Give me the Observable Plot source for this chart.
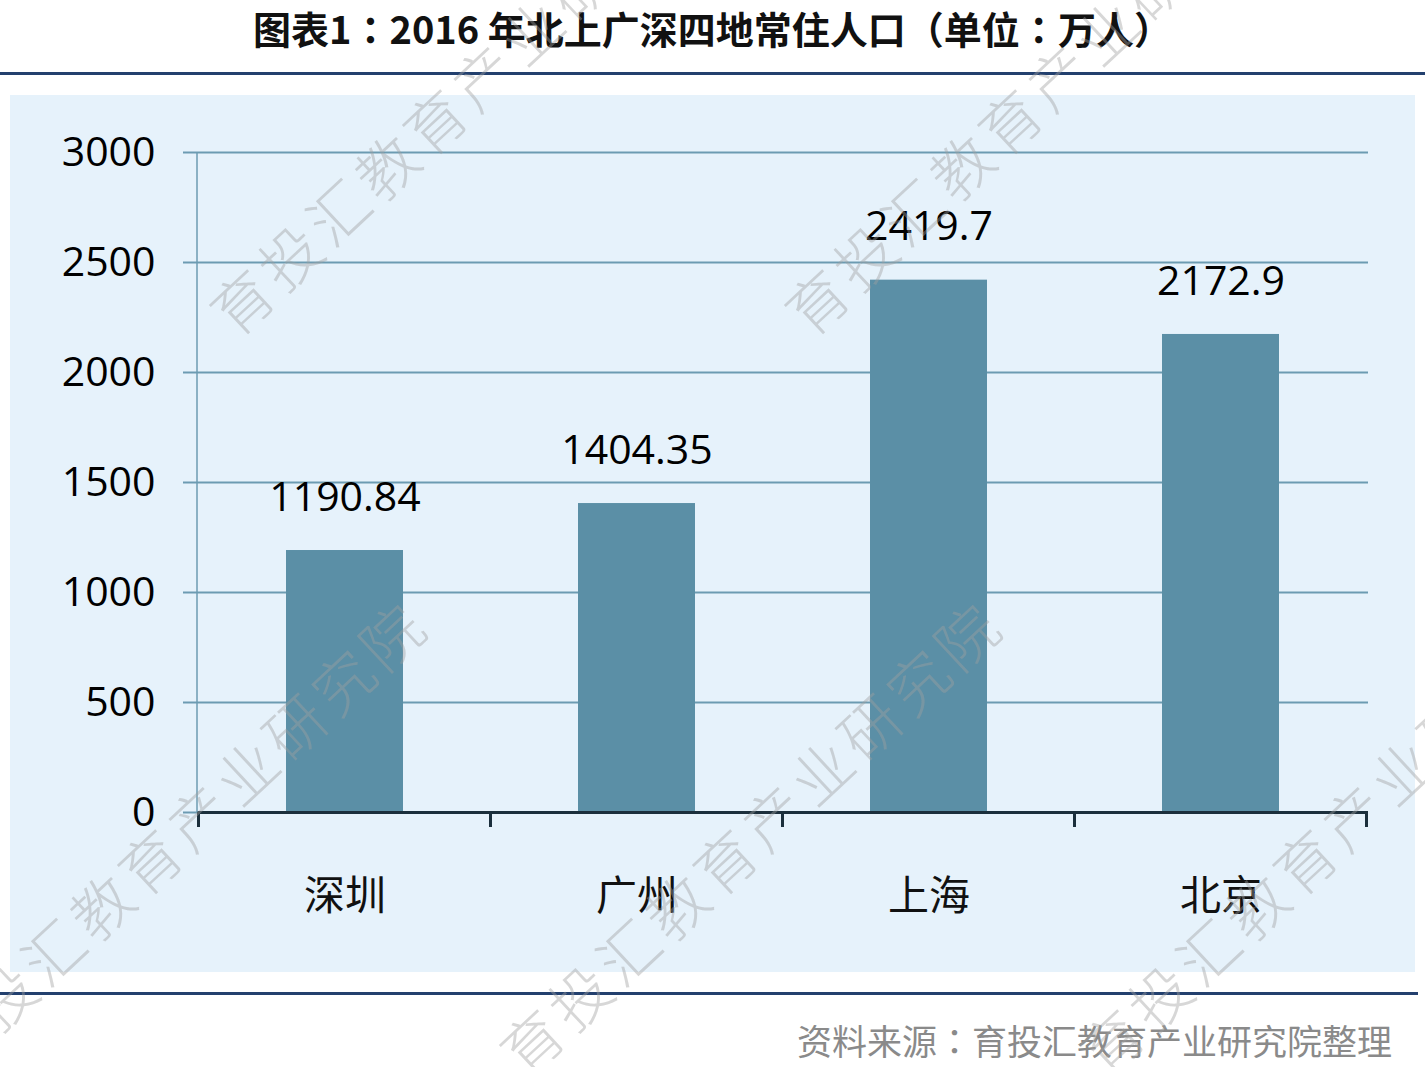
<!DOCTYPE html>
<html><head><meta charset="utf-8">
<script src="https://cdn.jsdelivr.net/npm/d3@7"></script>
<script src="https://cdn.jsdelivr.net/npm/@observablehq/plot@0.6"></script>
<style>
body{margin:0;background:#fff;width:1425px;height:1067px;position:relative;overflow:hidden;font-family:"Noto Sans CJK SC","Open Sans",sans-serif;}
#title{position:absolute;left:0;width:1425px;top:0;height:56px;text-align:center;font-size:38px;font-weight:700;line-height:56px;color:#111;}
.p{font-family:"Noto Sans CJK TC",sans-serif;}
.hr{position:absolute;left:0;height:3px;background:#23406e;}
#panel{position:absolute;left:10px;top:95px;width:1405px;height:877px;background:#e6f2fb;}
#caption{position:absolute;right:33px;top:1015px;font-size:35px;line-height:50px;color:#8a8a8a;}
.wm{position:absolute;font-size:60px;letter-spacing:6px;color:rgba(160,160,160,0.42);white-space:nowrap;pointer-events:none;transform-origin:30px 50%;transform:rotate(-43deg);line-height:70px;font-weight:300;}
</style>
</head><body>
<div id="title">图表1<span class="p">：</span>2016 年北上广深四地常住人口<span class="p">（</span>单位<span class="p">：</span>万人<span class="p">）</span></div>
<div class="hr" style="top:72px;width:1425px;"></div>
<div id="panel"></div>
<div class="hr" style="top:992px;width:1418px;"></div>
<div id="caption">资料来源<span class="p">：</span>育投汇教育产业研究院整理</div>
<script>
const cities = ["深圳", "广州", "上海", "北京"];
const population = [1190.84, 1404.35, 2419.7, 2172.9];
const yTicks = [0, 500, 1000, 1500, 2000, 2500, 3000];
const watermarkText = "育投汇教育产业研究院";

const data = cities.map((c, i) => ({city: c, value: population[i]}));
const barColor = "#5b8fa6";
const gridColor = "#6c9bb2";
const axisDark = "#1b2f3c";

function frameMarks(index, scales, values, dimensions) {
  const x = scales.x;
  const svgNS = "http://www.w3.org/2000/svg";
  const g = document.createElementNS(svgNS, "g");
  const bw = typeof x.bandwidth === "function" ? x.bandwidth() : x.bandwidth;
  const step = x(cities[1]) - x(cities[0]);
  const y0 = dimensions.height - dimensions.marginBottom;
  const yTop = dimensions.marginTop;
  const xl = dimensions.marginLeft;
  const v = document.createElementNS(svgNS, "line");
  v.setAttribute("x1", xl); v.setAttribute("x2", xl);
  v.setAttribute("y1", yTop); v.setAttribute("y2", y0);
  v.setAttribute("stroke", gridColor); v.setAttribute("stroke-width", 1.5);
  g.appendChild(v);
  const bounds = cities.map(c => x(c) - (step - bw) / 2);
  bounds.push(x(cities[cities.length - 1]) + bw + (step - bw) / 2);
  for (const bx of bounds) {
    const t = document.createElementNS(svgNS, "line");
    t.setAttribute("x1", bx); t.setAttribute("x2", bx);
    t.setAttribute("y1", y0); t.setAttribute("y2", y0 + 15);
    t.setAttribute("stroke", axisDark); t.setAttribute("stroke-width", 3);
    g.appendChild(t);
  }
  return g;
}

const chart = Plot.plot({
  width: 1405,
  height: 877,
  marginLeft: 187,
  marginRight: 47,
  marginTop: 57,
  marginBottom: 160,
  style: {background: "transparent", fontFamily: "'Open Sans','Noto Sans CJK SC',sans-serif", overflow: "visible"},
  x: {domain: cities, paddingInner: 0.6, paddingOuter: 0.3, label: null},
  y: {domain: [0, 3000], label: null},
  marks: [
    Plot.gridY(yTicks, {stroke: gridColor, strokeOpacity: 1, strokeWidth: 2}),
    Plot.axisY(yTicks, {tickSize: 14, tickPadding: 28, fontSize: 41, fill: "#000", stroke: gridColor, strokeWidth: 2, label: null, tickFormat: d => String(d)}),
    Plot.barY(data, {x: "city", y: "value", fill: barColor}),
    Plot.ruleY([0], {stroke: axisDark, strokeWidth: 3}),
    frameMarks,
    Plot.axisX({tickSize: 0, tickPadding: 68, fontSize: 41, fill: "#111", label: null}),
    Plot.text(data, {x: "city", y: "value", text: d => String(d.value), dy: -53, fontSize: 41, fill: "#000"})
  ]
});
chart.style.position = "absolute";
chart.style.left = "10px";
chart.style.top = "95px";
document.body.appendChild(chart);

const wmPositions = [[240, 300], [815, 300], [-45, 1040], [530, 1040], [1110, 1040]];
for (const [cx, cy] of wmPositions) {
  const d = document.createElement("div");
  d.className = "wm";
  d.textContent = watermarkText;
  d.style.left = (cx - 30) + "px";
  d.style.top = (cy - 35) + "px";
  document.body.appendChild(d);
}
</script>
</body></html>
